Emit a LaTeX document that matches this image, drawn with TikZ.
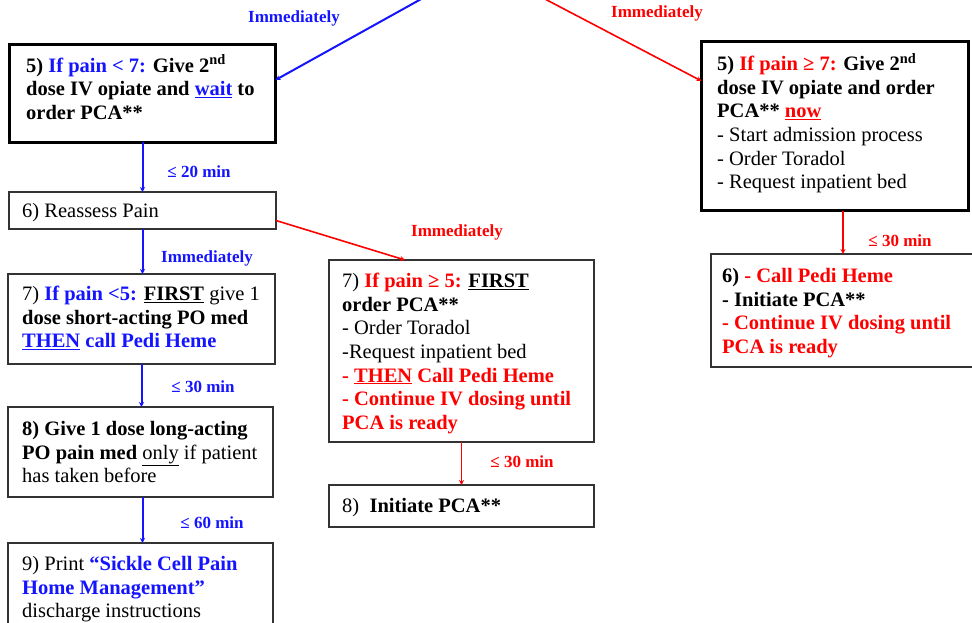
\documentclass[tikz,border=0pt]{standalone}
\usepackage{fontspec}
\setmainfont{Liberation Serif}
\newfontfamily\boxfont{Liberation Serif}
\usetikzlibrary{calc,arrows.meta}
\definecolor{pblue}{RGB}{20,20,255}
\definecolor{pred}{RGB}{255,0,0}
\begin{document}
\begin{tikzpicture}[x=1pt,y=-1pt,
 boxthin/.style={draw=black!80,line width=2pt,inner sep=0pt,outer sep=0pt,anchor=north west,fill=white},
 boxthick/.style={boxthin,draw=black,line width=3pt},
 txt/.style={anchor=north west,inner sep=0pt,align=left,font=\boxfont\fontsize{20.5}{23.6}\selectfont},
 lbl/.style={inner sep=0pt,font=\boxfont\bfseries\fontsize{17}{19}\selectfont},
 barr/.style={draw=pblue,line width=2pt,-{Stealth[length=5pt,width=5pt]}},
 rarr/.style={draw=pred,line width=1.6pt,-{Stealth[length=5pt,width=5pt]}},
]
\useasboundingbox (0,0) rectangle (972,623);

% boxes
\node[boxthick,minimum width=266pt,minimum height=98pt] (b5l) at (9.5,44.5) {};
\node[boxthin,minimum width=267pt,minimum height=37pt] (b6) at (9,192) {};
\node[boxthin,minimum width=267pt,minimum height=90pt] (b7l) at (8,274) {};
\node[boxthin,minimum width=265pt,minimum height=90pt] (b8l) at (8,407) {};
\node[boxthin,minimum width=265pt,minimum height=100pt] (b9l) at (8,543) {};
\node[boxthin,minimum width=265pt,minimum height=182pt] (b7m) at (329,260) {};
\node[boxthin,minimum width=265pt,minimum height=42pt] (b8m) at (329,485) {};
\node[boxthick,minimum width=267pt,minimum height=169pt] (b5r) at (701.5,41.5) {};
\node[boxthin,minimum width=300pt,minimum height=113pt] (b6r) at (711,254) {};

% texts
\node[txt] (t5l) at ($(b5l.north west)+(16.5,10)$) {\bfseries 5) \textcolor{pblue}{If pain < 7:} Give 2\textsuperscript{nd}\\ \bfseries dose IV opiate and \textcolor{pblue}{\underline{wait}} to\\ \bfseries order PCA**};
\node[txt] (t6) at ($(b6.north west)+(13,11)$) {6) Reassess Pain};
\node[txt] (t7l) at ($(b7l.north west)+(14,12)$) {7) \textcolor{pblue}{\textbf{If pain <5:}} \textbf{\underline{FIRST}} give 1\\ \textbf{dose short-acting PO med}\\ \textcolor{pblue}{\textbf{\underline{THEN} call Pedi Heme}}};
\node[txt] (t8l) at ($(b8l.north west)+(14,14)$) {\textbf{8) Give 1 dose long-acting}\\ \textbf{PO pain med} \underline{only} if patient\\ has taken before};
\node[txt] (t9l) at ($(b9l.north west)+(14,13)$) {9) Print \textcolor{pblue}{\textbf{“Sickle Cell Pain}}\\ \textcolor{pblue}{\textbf{Home Management”}}\\ discharge instructions};
\node[txt] (t7m) at ($(b7m.north west)+(13,13)$) {7) \textcolor{pred}{\textbf{If pain ≥ 5:}} \textbf{\underline{FIRST}}\\ \textbf{order PCA**}\\ - Order Toradol\\ -Request inpatient bed\\ \textcolor{pred}{\textbf{- \underline{THEN} Call Pedi Heme}}\\ \textcolor{pred}{\textbf{- Continue IV dosing until}}\\ \textcolor{pred}{\textbf{PCA is ready}}};
\node[txt] (t8m) at ($(b8m.north west)+(13,13)$) {8)\ \ \textbf{Initiate PCA**}};
\node[txt] (t5r) at ($(b5r.north west)+(15.5,11.5)$) {\textbf{5) \textcolor{pred}{If pain ≥ 7:} Give 2\textsuperscript{nd}}\\ \textbf{dose IV opiate and order}\\ \textbf{PCA** \textcolor{pred}{\underline{now}}}\\ - Start admission process\\ - Order Toradol\\ - Request inpatient bed};
\node[txt] (t6r) at ($(b6r.north west)+(11,14)$) {\textbf{6) \textcolor{pred}{- Call Pedi Heme}}\\ \textbf{- Initiate PCA**}\\ \textcolor{pred}{\textbf{- Continue IV dosing until}}\\ \textcolor{pred}{\textbf{PCA is ready}}};

% connector labels
\node[lbl,text=pblue] (l1) at (294,18) {Immediately};
\node[lbl,text=pred] (l2) at (657,13) {Immediately};
\node[lbl,text=pblue] (l3) at (199,172) {≤ 20 min};
\node[lbl,text=pblue] (l4) at (207,258) {Immediately};
\node[lbl,text=pred] (l5) at (457,232) {Immediately};
\node[lbl,text=pblue] (l6) at (203,387) {≤ 30 min};
\node[lbl,text=pblue] (l7) at (212,523) {≤ 60 min};
\node[lbl,text=pred] (l8) at (522,462) {≤ 30 min};
\node[lbl,text=pred] (l9) at (900,241) {≤ 30 min};

% connectors
\coordinate (srcL) at (423,-2);
\coordinate (srcR) at (543,-2);
\draw[barr] (srcL) -- ([yshift=13.5pt]b5l.east);
\draw[rarr] (srcR) -- ([yshift=45pt]b5r.west);
\draw[barr] (b5l.south) -- (b5l.south |- b6.north);
\draw[barr] (b6.south) -- (b6.south |- b7l.north);
\draw[rarr] ([yshift=-10pt]b6.east) -- ($(b7m.north west)+(76,0)$);
\draw[barr] (b7l.south) -- (b7l.south |- b8l.north);
\draw[barr] ([xshift=2pt]b8l.south) -- ([xshift=2pt]b8l.south |- b9l.north);
\draw[rarr] (b7m.south) -- (b7m.south |- b8m.north);
\draw[rarr] ([xshift=8pt]b5r.south) -- ([xshift=8pt]b5r.south |- b6r.north);
\end{tikzpicture}
\end{document}
